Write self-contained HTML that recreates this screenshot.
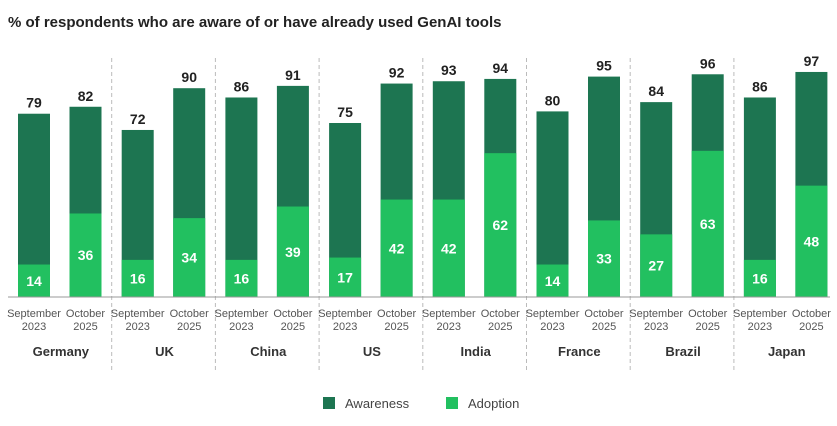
<!DOCTYPE html>
<html><head><meta charset="utf-8"><style>
body{margin:0;background:#fff;width:837px;height:421px;overflow:hidden;font-family:"Liberation Sans",sans-serif}
</style></head><body>
<svg id="chart" width="837" height="421" xmlns="http://www.w3.org/2000/svg">
<text x="8" y="27" font-size="15" font-weight="bold" fill="#222">% of respondents who are aware of or have already used GenAI tools</text>
<g id="plot"></g>
<g>
<rect x="323" y="397" width="12" height="12" fill="#1d7551"/>
<text x="345" y="408" font-size="13" fill="#444">Awareness</text>
<rect x="446" y="397" width="12" height="12" fill="#22c060"/>
<text x="468" y="408" font-size="13" fill="#444">Adoption</text>
</g>
</svg>
<script>
const countries=["Germany","UK","China","US","India","France","Brazil","Japan"];
const periods=[["September","2023"],["October","2025"]];
const awareness=[[79,82],[72,90],[86,91],[75,92],[93,94],[80,95],[84,96],[86,97]];
const adoption=[[14,36],[16,34],[16,39],[17,42],[42,62],[14,33],[27,63],[16,48]];
const NS="http://www.w3.org/2000/svg";
const g=document.getElementById('plot');
const base=297, k=2.32, x0=8, gw=103.7, bw=32;
const y=v=>base-v*k;
const xb=(i,j)=>x0+i*gw+(j===0?10:61.5);
function el(t,a,txt){const e=document.createElementNS(NS,t);for(const n in a)e.setAttribute(n,a[n]);if(txt!==undefined)e.textContent=txt;g.appendChild(e);return e;}
countries.forEach((c,i)=>{
  if(i>0){const s=el('line',{x1:x0+i*gw,x2:x0+i*gw,y1:58,y2:370,stroke:'#bbb','stroke-dasharray':'4,3'});
  
  }
  for(let j=0;j<2;j++){
    const x=xb(i,j),a=awareness[i][j],d=adoption[i][j];
    const r1=el('rect',{x:x,y:y(a),width:bw,height:a*k,fill:'#1d7551'});
    
    
    const r2=el('rect',{x:x,y:y(d),width:bw,height:d*k,fill:'#22c060'});
    
    
    const t1=el('text',{x:x+bw/2,y:y(a)-6,'text-anchor':'middle','font-size':14,'font-weight':'bold',fill:'#222'},a);
    
    
    const t2=el('text',{x:x+bw/2,y:y(d/2)+5,'text-anchor':'middle','font-size':14,'font-weight':'bold',fill:'#fff'},d);
    
    
    const l1=el('text',{x:x+bw/2,y:317,'text-anchor':'middle','font-size':11,fill:'#555'},periods[j][0]);
    
    
    const l2=el('text',{x:x+bw/2,y:330,'text-anchor':'middle','font-size':11,fill:'#555'},periods[j][1]);
    
    
  }
  const cl=el('text',{x:x0+i*gw+gw/2+1,y:356,'text-anchor':'middle','font-size':13,'font-weight':'bold',fill:'#333'},c);
  
  
});
const ax=el('line',{x1:8,x2:830,y1:base,y2:base,stroke:'#999','stroke-width':1});


</script>
</body></html>
